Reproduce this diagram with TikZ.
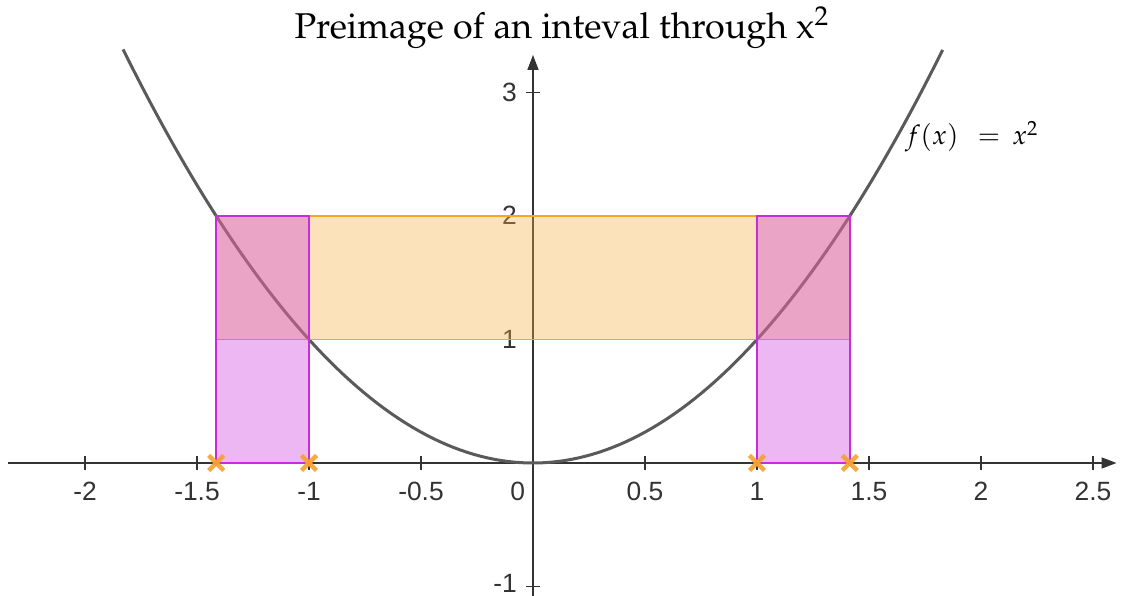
\documentclass[tikz,border=0pt]{standalone}
\usepackage{mathpazo}
\usepackage{fontspec}
\usetikzlibrary{arrows.meta}
\newfontfamily\tickfont{Liberation Sans}
\newcommand\palfont{\usefont{OT1}{ppl}{m}{n}}
\definecolor{axisgray}{HTML}{333333}
\definecolor{curvegray}{HTML}{5A5A5A}
\definecolor{orstroke}{HTML}{F5A623}
\definecolor{orfill}{HTML}{F7B040}
\definecolor{magstroke}{HTML}{C72ED9}
\definecolor{magfill}{HTML}{C832DC}
\definecolor{crossor}{HTML}{F5A030}
\begin{document}
\begin{tikzpicture}[x=224bp,y=123.5bp,
  axis/.style={draw=axisgray, line width=1.5bp, -{Triangle[length=15bp,width=11bp]}},
  tickln/.style={draw=axisgray, line width=1.2bp},
  ticklab/.style={font=\tickfont\fontsize{26.5}{27}\selectfont, text=axisgray, inner sep=0pt},
  curveln/.style={draw=curvegray, line width=3bp},
  orng/.style={draw=orstroke, fill=orfill, fill opacity=0.36, line width=1.5bp},
  mag/.style={draw=magstroke, fill=magfill, fill opacity=0.35, line width=2bp},
  xmk/.style={draw=crossor, line width=4.3bp, draw opacity=0.9}
]
\useasboundingbox (-2.3795,-1.0769) rectangle (2.6295,3.7490);
% axes
\coordinate (xs) at (-2.344,0);
\coordinate (xe) at (2.605,0);
\coordinate (ys) at (0,-1.08);
\coordinate (ye) at (0,3.304);
\draw[axis] (xs) -- (xe);
\draw[axis] (ys) -- (ye);
% x ticks
\foreach \v/\t [count=\i] in {-2/-2,-1.5/-1.5,-1/-1,-0.5/-0.5,0.5/0.5,1/1,1.5/1.5,2/2,2.5/2.5}{
  \coordinate (xt\i) at (\v,0);
  \draw[tickln] ([yshift=-7bp]xt\i) -- ([yshift=7bp]xt\i);
  \node[ticklab, anchor=base] (xl\i) at (\v,-0.30) {\t};
}
% y ticks
\foreach \v/\t/\b [count=\i] in {-1/-1/-1.045,1/1/0.931,2/2/1.931,3/3/2.931}{
  \coordinate (yt\i) at (0,\v);
  \draw[tickln] ([xshift=-7bp]yt\i) -- ([xshift=7bp]yt\i);
  \node[ticklab, anchor=base east] (yl\i) at (-0.071,\b) {\t};
}
\node[ticklab, anchor=base east] (zero) at (-0.035,-0.30) {0};
% curve
\draw[curveln, domain=-1.83:1.83, samples=120] plot (\x,{\x*\x});
% rectangles
\draw[orng] (-1.41421,1) rectangle (1.41421,2);
\draw[mag] (-1.41421,0) rectangle (-1,2);
\draw[mag] (1,0) rectangle (1.41421,2);
% crosses
\foreach \v [count=\i] in {-1.41421,-1,1,1.41421}{
  \coordinate (c\i) at (\v,0);
  \draw[xmk] ([shift={(-7.5bp,-7.5bp)}]c\i) -- ([shift={(7.5bp,7.5bp)}]c\i);
  \draw[xmk] ([shift={(-7.5bp,7.5bp)}]c\i) -- ([shift={(7.5bp,-7.5bp)}]c\i);
}
% labels
\node[anchor=base west, inner sep=0pt, font=\fontsize{27}{30}\selectfont] (flab) at (1.661,2.575) {$f(x)\mkern8mu=\mkern3mu x^2$};
\node[anchor=base, inner sep=0pt, font=\palfont\fontsize{36}{40}\selectfont, text=black] (title) at (0.128,3.441) {Preimage of an inteval through x$^2$};
\end{tikzpicture}
\end{document}
